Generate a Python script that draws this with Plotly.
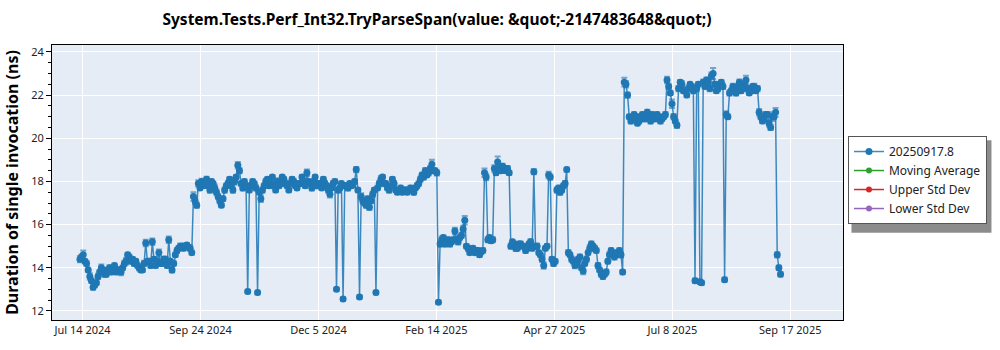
import pandas as pd
import plotly.graph_objects as go

# Daily benchmark results, starting 2024-07-13
start_date = "2024-07-13"
step = "1D"

durations_ns = [
    14.4, 14.5, 14.6, 14.3, 14.2, 13.9, 13.6, 13.4, 13.1, 13.2,
    13.3, 13.6, 13.8, 14.0, 13.9, 13.7, 13.7, 13.9, 14.0, 13.8,
    13.9, 14.1, 13.8, 13.9, 13.9, 13.8, 14.0, 14.2, 14.3, 14.6,
    14.5, 14.3, 14.4, 14.2, 14.3, 14.1, 14.0, 13.9, 13.9, 14.2,
    15.15, 14.3, 14.3, 14.1, 15.2, 14.4, 14.1, 14.3, 14.7, 14.2,
    14.2, 14.4, 14.4, 14.1, 15.3, 14.3, 13.9, 14.2, 14.6, 14.8,
    14.9, 15.0, 15.0, 14.9, 15.0, 15.05, 14.95, 14.9, 14.7, 17.3,
    17.1, 16.9, 17.9, 17.7, 18.0, 17.8, 17.9, 18.1, 17.8, 17.6,
    18.0, 17.9, 17.7, 17.5, 17.3, 17.1, 16.9, 17.2, 17.6, 17.8,
    17.9, 18.1, 17.8, 17.6, 18.0, 18.2, 18.75, 18.5, 17.9, 17.7,
    18.0, 17.8, 12.9, 17.6, 17.8, 18.0, 17.9, 17.7, 12.85, 17.5,
    17.2, 17.6, 17.8, 18.0, 18.1, 17.8, 17.9, 18.2, 17.8, 17.6,
    18.0, 17.8, 17.9, 18.2, 18.1, 17.9, 17.8, 17.6, 17.9, 18.1,
    18.0, 17.8, 17.7, 17.9, 17.9, 18.2, 18.0, 17.8, 18.4, 18.0,
    17.9, 17.7, 18.0, 18.2, 17.8, 17.9, 17.9, 17.7, 18.1, 17.9,
    17.8, 17.6, 17.4, 17.7, 17.9, 18.0, 13.0, 17.6, 17.7, 17.9,
    12.55, 17.8, 17.8, 17.7, 17.9, 17.8, 17.85, 18.0, 18.55, 17.6,
    12.65, 17.3, 17.1, 17.0, 16.9, 17.2, 16.8, 17.1, 17.4, 17.6,
    12.85, 17.7, 17.9, 18.1, 18.2, 17.9, 17.9, 17.7, 17.6, 17.8,
    18.1, 17.9, 17.6, 17.5, 17.6, 17.7, 17.5, 17.6, 17.6, 17.5,
    17.6, 17.7, 17.6, 17.5, 17.7, 17.8, 17.9, 18.1, 18.3, 18.2,
    18.5, 18.3, 18.4, 18.6, 18.8, 18.5, 18.5, 18.4, 12.4, 15.1,
    15.3, 15.4, 15.1, 15.2, 15.3, 15.1, 15.2, 15.3, 15.7, 15.3,
    15.2, 15.4, 15.5, 15.8, 16.2, 15.0, 14.9, 14.7, 14.8, 14.9,
    14.7, 14.8, 14.8, 14.6, 14.75, 14.8, 18.4, 18.2, 15.3, 15.4,
    15.25, 15.3, 18.6, 18.4, 18.9, 18.6, 18.5, 18.7, 18.6, 18.5,
    18.6, 18.4, 15.0, 15.2, 15.1, 14.9, 14.9, 15.1, 15.1, 15.0,
    15.0, 14.8, 14.9, 15.1, 15.2, 14.9, 18.45, 15.0, 15.0, 14.7,
    14.6, 14.4, 14.1, 14.9, 15.0, 18.3, 18.2, 14.4, 14.2, 14.3,
    17.6, 17.7, 17.5, 17.6, 17.8, 17.9, 18.55, 14.7, 14.6, 14.4,
    14.3, 14.1, 14.2, 14.4, 14.5, 14.0, 13.85, 14.2, 14.4, 14.7,
    14.9, 15.1, 15.0, 14.9, 14.8, 14.1, 13.9, 13.7, 13.6, 13.7,
    13.8, 14.3, 14.6, 14.8, 14.7, 14.5, 14.6, 14.7, 14.8, 14.6,
    13.8, 22.6, 22.5, 22.0, 21.0, 20.8, 20.9, 21.1, 21.0, 20.7,
    20.8, 21.0, 21.1, 20.9, 20.9, 21.2, 21.0, 20.8, 21.1, 20.9,
    20.9, 21.1, 21.0, 20.8, 20.9, 21.0, 21.1, 22.7, 22.4, 22.1,
    21.6, 21.0, 20.8, 20.6, 22.3, 22.6, 22.5, 22.2, 22.2, 22.0,
    22.3, 22.5, 22.4, 22.2, 13.4, 22.3, 22.5, 13.35, 13.3, 22.6,
    22.4, 22.7, 22.6, 22.3, 22.9, 23.0, 22.5, 22.2, 22.3, 22.5,
    22.6, 22.4, 13.45, 21.1, 21.0, 22.1, 22.2, 22.4, 22.3, 22.1,
    22.4, 22.6, 22.2, 22.3, 22.5, 22.7, 22.3, 22.1, 22.2, 22.4,
    22.4, 22.2, 22.3, 21.2, 21.0, 20.8, 20.9, 21.1, 21.1, 20.7,
    20.5, 21.0, 21.0, 21.2, 14.6, 14.0, 13.7,
]

std_dev_ns = [
    0.15, 0.12, 0.2, 0.1, 0.12, 0.1, 0.15, 0.1, 0.12, 0.1,
    0.1, 0.12, 0.1, 0.15, 0.1, 0.12, 0.1, 0.1, 0.12, 0.1,
    0.12, 0.1, 0.1, 0.12, 0.1, 0.15, 0.1, 0.12, 0.15, 0.1,
    0.12, 0.1, 0.1, 0.12, 0.1, 0.1, 0.12, 0.1, 0.1, 0.12,
    0.15, 0.1, 0.12, 0.1, 0.15, 0.1, 0.1, 0.12, 0.15, 0.1,
    0.1, 0.12, 0.1, 0.1, 0.15, 0.1, 0.12, 0.1, 0.1, 0.12,
    0.1, 0.12, 0.1, 0.1, 0.12, 0.1, 0.1, 0.12, 0.1, 0.2,
    0.15, 0.12, 0.15, 0.1, 0.12, 0.1, 0.1, 0.12, 0.1, 0.12,
    0.1, 0.1, 0.15, 0.12, 0.1, 0.12, 0.1, 0.1, 0.12, 0.1,
    0.12, 0.1, 0.1, 0.12, 0.15, 0.1, 0.15, 0.12, 0.1, 0.12,
    0.1, 0.12, 0.08, 0.1, 0.12, 0.1, 0.1, 0.12, 0.08, 0.1,
    0.15, 0.12, 0.1, 0.12, 0.1, 0.1, 0.12, 0.1, 0.12, 0.1,
    0.15, 0.1, 0.12, 0.1, 0.1, 0.12, 0.1, 0.1, 0.12, 0.1,
    0.12, 0.1, 0.1, 0.12, 0.1, 0.1, 0.12, 0.1, 0.15, 0.1,
    0.1, 0.12, 0.1, 0.1, 0.12, 0.1, 0.12, 0.1, 0.1, 0.12,
    0.1, 0.12, 0.15, 0.1, 0.12, 0.1, 0.08, 0.12, 0.1, 0.1,
    0.08, 0.12, 0.1, 0.12, 0.1, 0.1, 0.12, 0.1, 0.12, 0.1,
    0.08, 0.15, 0.12, 0.1, 0.12, 0.1, 0.12, 0.1, 0.12, 0.1,
    0.08, 0.1, 0.12, 0.15, 0.1, 0.12, 0.1, 0.1, 0.12, 0.1,
    0.1, 0.12, 0.1, 0.1, 0.12, 0.1, 0.1, 0.12, 0.1, 0.1,
    0.12, 0.1, 0.1, 0.12, 0.1, 0.12, 0.1, 0.12, 0.1, 0.12,
    0.12, 0.1, 0.12, 0.1, 0.2, 0.12, 0.1, 0.12, 0.08, 0.12,
    0.15, 0.1, 0.12, 0.1, 0.1, 0.12, 0.1, 0.1, 0.15, 0.1,
    0.12, 0.1, 0.12, 0.15, 0.2, 0.1, 0.12, 0.1, 0.12, 0.1,
    0.1, 0.12, 0.1, 0.1, 0.12, 0.1, 0.2, 0.15, 0.12, 0.1,
    0.1, 0.12, 0.15, 0.1, 0.25, 0.12, 0.1, 0.12, 0.1, 0.1,
    0.12, 0.1, 0.12, 0.1, 0.1, 0.12, 0.1, 0.1, 0.12, 0.1,
    0.1, 0.12, 0.1, 0.1, 0.12, 0.1, 0.12, 0.1, 0.12, 0.1,
    0.1, 0.12, 0.15, 0.1, 0.1, 0.15, 0.12, 0.1, 0.12, 0.1,
    0.12, 0.1, 0.12, 0.1, 0.1, 0.12, 0.1, 0.12, 0.1, 0.12,
    0.1, 0.12, 0.1, 0.1, 0.12, 0.1, 0.15, 0.1, 0.12, 0.1,
    0.15, 0.12, 0.1, 0.12, 0.1, 0.12, 0.1, 0.1, 0.12, 0.1,
    0.12, 0.1, 0.12, 0.1, 0.1, 0.12, 0.1, 0.12, 0.1, 0.12,
    0.1, 0.2, 0.15, 0.12, 0.1, 0.12, 0.1, 0.1, 0.12, 0.1,
    0.12, 0.1, 0.1, 0.12, 0.1, 0.12, 0.1, 0.12, 0.1, 0.1,
    0.12, 0.1, 0.1, 0.12, 0.1, 0.1, 0.12, 0.15, 0.12, 0.1,
    0.2, 0.12, 0.1, 0.12, 0.12, 0.1, 0.15, 0.1, 0.12, 0.1,
    0.12, 0.1, 0.1, 0.12, 0.1, 0.12, 0.1, 0.1, 0.1, 0.12,
    0.1, 0.12, 0.1, 0.12, 0.15, 0.25, 0.12, 0.1, 0.12, 0.1,
    0.1, 0.12, 0.1, 0.15, 0.1, 0.12, 0.1, 0.12, 0.1, 0.12,
    0.1, 0.12, 0.1, 0.12, 0.15, 0.2, 0.12, 0.1, 0.12, 0.1,
    0.12, 0.1, 0.12, 0.15, 0.12, 0.1, 0.12, 0.12, 0.1, 0.15,
    0.12, 0.2, 0.12, 0.2, 0.12, 0.1, 0.1,
]

run_label = "20250917.8"
overlay_names = ["Moving Average", "Upper Std Dev", "Lower Std Dev"]
overlay_colors = ["#2ca02c", "#d62728", "#9467bd"]
title_text = "System.Tests.Perf_Int32.TryParseSpan(value: &quot;-2147483648&quot;)"
y_title = "Duration of single invocation (ns)"

dates = pd.date_range(start_date, periods=len(durations_ns), freq=step)

BLUE = "#1f77b4"
FONT = "Noto Sans"
DAY_MS = 86400000

fig = go.Figure()
fig.add_trace(go.Scatter(
    x=dates, y=durations_ns, name=run_label, mode="lines+markers",
    line=dict(color="rgba(31,119,180,0.85)", width=1.5),
    marker=dict(color=BLUE, size=7),
    error_y=dict(type="data", array=std_dev_ns, visible=True,
                 color="rgba(31,119,180,0.6)", thickness=2, width=3),
))
for name, color in zip(overlay_names, overlay_colors):
    fig.add_trace(go.Scatter(
        x=[None], y=[None], name=name, mode="lines+markers",
        line=dict(color=color, width=1.5), marker=dict(color=color, size=6),
    ))

# drop shadow behind the legend box
fig.add_shape(type="rect", xref="paper", yref="paper",
              x0=1.0107, x1=1.1877, y0=0.317, y1=0.654,
              line=dict(width=0), fillcolor="rgba(0,0,0,0.45)", layer="below")

fig.update_layout(
    width=1000, height=350,
    margin=dict(l=52, r=157, t=45, b=30),
    paper_bgcolor="white", plot_bgcolor="#e5ecf6",
    font=dict(family=FONT, size=11, color="#222"),
    title=dict(text=title_text, x=0.437, xref="container", xanchor="center",
               y=0.945, yref="container", yanchor="middle",
               font=dict(family=FONT, size=15.5, color="black", weight="bold")),
    showlegend=True,
    legend=dict(x=1.0063, y=0.669, xanchor="left", yanchor="top",
                bgcolor="white", bordercolor="#555", borderwidth=1,
                font=dict(family=FONT, size=12, color="#222"),
                itemwidth=30),
    xaxis=dict(
        type="date", range=["2024-06-26", "2025-10-20"],
        tick0="2024-07-14 14:24", dtick=71.72 * DAY_MS, tickformat="%b %-d %Y",
        showgrid=True, gridcolor="white", gridwidth=1,
        showline=True, linecolor="black", linewidth=1, mirror=True,
        ticks="", zeroline=False,
    ),
    yaxis=dict(
        range=[11.58, 24.32], dtick=2, tick0=0,
        showgrid=True, gridcolor="white", gridwidth=1,
        showline=True, linecolor="black", linewidth=1, mirror=True,
        ticks="outside", ticklen=5, tickcolor="black",
        minor=dict(dtick=0.5, ticks="outside", ticklen=3, tickcolor="black", showgrid=False),
        zeroline=False,
        title=dict(text=y_title, font=dict(family=FONT, size=16, color="black", weight="bold"),
                   standoff=8),
    ),
)

fig.write_html("out.html")
